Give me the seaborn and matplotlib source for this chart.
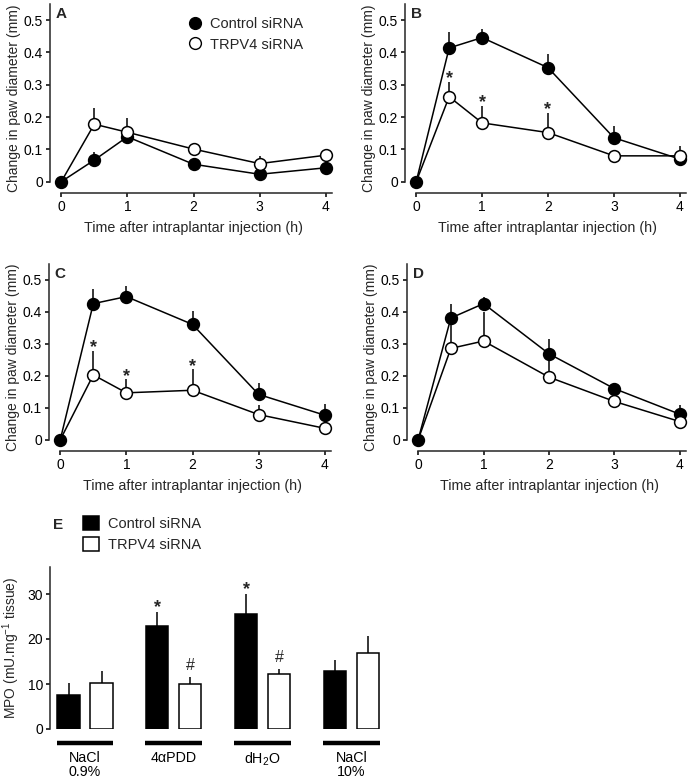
import matplotlib
matplotlib.use("Agg")
import matplotlib.pyplot as plt
from matplotlib.lines import Line2D
from matplotlib.patches import Patch
import numpy as np
import pandas as pd
import seaborn as sns

# time points (h)
times = [0, 0.5, 1, 2, 3, 4]

# panel A
a_control = [0, 0.067, 0.139, 0.054, 0.023, 0.043]
a_control_err = [0, 0.026, 0.010, 0.008, 0.008, 0.008]
a_trpv4 = [0, 0.178, 0.153, 0.101, 0.056, 0.082]
a_trpv4_err = [0, 0.049, 0.043, 0.017, 0.024, 0.018]
a_stars = []

# panel B
b_control = [0, 0.414, 0.446, 0.353, 0.136, 0.070]
b_control_err = [0, 0.050, 0.028, 0.041, 0.036, 0.010]
b_trpv4 = [0, 0.263, 0.182, 0.152, 0.080, 0.080]
b_trpv4_err = [0, 0.046, 0.052, 0.061, 0.010, 0.031]
b_stars = [0.5, 1, 2]

# panel C
c_control = [0, 0.426, 0.448, 0.361, 0.142, 0.077]
c_control_err = [0, 0.045, 0.033, 0.043, 0.036, 0.034]
c_trpv4 = [0, 0.203, 0.147, 0.155, 0.079, 0.036]
c_trpv4_err = [0, 0.075, 0.042, 0.065, 0.029, 0.023]
c_stars = [0.5, 1, 2]

# panel D
d_control = [0, 0.381, 0.426, 0.269, 0.160, 0.080]
d_control_err = [0, 0.045, 0.020, 0.046, 0.010, 0.029]
d_trpv4 = [0, 0.286, 0.309, 0.196, 0.120, 0.057]
d_trpv4_err = [0, 0.095, 0.091, 0.073, 0.027, 0.005]
d_stars = []

# panel E (MPO)
mpo_groups = ["NaCl\n0.9%", "4\u03b1PDD", "dH$_2$O", "NaCl\n10%"]
mpo_control = [7.5, 22.9, 25.6, 13.0]
mpo_control_err = [2.8, 3.0, 4.4, 2.4]
mpo_trpv4 = [10.3, 10.1, 12.2, 16.9]
mpo_trpv4_err = [2.7, 1.5, 1.2, 3.8]
mpo_control_marks = ["", "*", "*", ""]
mpo_trpv4_marks = ["", "#", "#", ""]

sns.set_theme(style="ticks")
plt.rcParams["font.family"] = ["Liberation Sans", "DejaVu Sans"]
plt.rcParams["mathtext.fontset"] = "custom"
plt.rcParams["mathtext.rm"] = "Liberation Sans"
plt.rcParams["mathtext.it"] = "Liberation Sans:italic"
plt.rcParams["axes.linewidth"] = 1.1
plt.rcParams["xtick.major.width"] = 1.1
plt.rcParams["ytick.major.width"] = 1.1

W, H = 691, 778
fig = plt.figure(figsize=(W / 100, H / 100), dpi=100)


def add_axes(left, top, width, height):
    return fig.add_axes([left / W, 1 - (top + height) / H, width / W, height / H])


def draw_time_course(ax, control, control_err, trpv4, trpv4_err, stars, letter):
    control = np.array(control)
    trpv4 = np.array(trpv4)
    ax.vlines(times, control, control + np.array(control_err), color="black", lw=1.1, zorder=1)
    ax.vlines(times, trpv4, trpv4 + np.array(trpv4_err), color="black", lw=1.1, zorder=1)
    sns.lineplot(x=times, y=control, ax=ax, color="black", lw=1.1, marker="o",
                 markersize=8.5, markerfacecolor="black", markeredgecolor="black",
                 markeredgewidth=1.1, zorder=2)
    sns.lineplot(x=times, y=trpv4, ax=ax, color="black", lw=1.1, marker="o",
                 markersize=8.5, markerfacecolor="white", markeredgecolor="black",
                 markeredgewidth=1.1, markevery=slice(1, None), zorder=3)
    for t in stars:
        i = times.index(t)
        ax.annotate("*", (t, trpv4[i] + trpv4_err[i]), xytext=(0, -1),
                    textcoords="offset points", ha="center", va="baseline",
                    fontsize=13, fontweight="bold")

    ax.set_xlim(-0.17, 4.17)
    ax.set_ylim(-0.035, 0.55)
    ax.set_xticks([0, 1, 2, 3, 4])
    ax.set_yticks([0, 0.1, 0.2, 0.3, 0.4, 0.5])
    ax.set_yticklabels(["0", "0.1", "0.2", "0.3", "0.4", "0.5"])
    sns.despine(ax=ax)
    ax.spines["bottom"].set_bounds(0, 4.1)
    ax.spines["left"].set_bounds(0, 0.55)
    ax.tick_params(axis="both", labelsize=10, length=3, pad=2, colors="black")
    ax.set_xlabel("Time after intraplantar injection (h)", fontsize=10.3, labelpad=5)
    ax.set_ylabel("Change in paw diameter (mm)", fontsize=10, labelpad=2)
    ax.text(0.02, 0.985, letter, transform=ax.transAxes, fontsize=11,
            fontweight="bold", ha="left", va="top")


ax_a = add_axes(50, 4, 287, 189)
draw_time_course(ax_a, a_control, a_control_err, a_trpv4, a_trpv4_err, a_stars, "A")
ax_b = add_axes(405, 4, 286, 189)
draw_time_course(ax_b, b_control, b_control_err, b_trpv4, b_trpv4_err, b_stars, "B")
ax_c = add_axes(49, 264, 287, 187)
draw_time_course(ax_c, c_control, c_control_err, c_trpv4, c_trpv4_err, c_stars, "C")
ax_d = add_axes(407, 264, 284, 187)
draw_time_course(ax_d, d_control, d_control_err, d_trpv4, d_trpv4_err, d_stars, "D")

line_handles = [
    Line2D([], [], ls="none", marker="o", markersize=8.5, mfc="black", mec="black"),
    Line2D([], [], ls="none", marker="o", markersize=8.5, mfc="white", mec="black"),
]
ax_a.legend(line_handles, ["Control siRNA", "TRPV4 siRNA"], loc="upper left",
            bbox_to_anchor=(188 / W, 1 - 17 / H), bbox_transform=fig.transFigure,
            frameon=False, fontsize=10.5, handlelength=1.0, handletextpad=0.5,
            borderpad=0, borderaxespad=0, labelspacing=0.45)

# panel E
ax_e = add_axes(50, 567, 335, 162)
mpo_df = pd.DataFrame({
    "group": mpo_groups * 2,
    "siRNA": ["Control siRNA"] * 4 + ["TRPV4 siRNA"] * 4,
    "value": mpo_control + mpo_trpv4,
})
sns.barplot(data=mpo_df, x="group", y="value", hue="siRNA",
            palette={"Control siRNA": "black", "TRPV4 siRNA": "white"},
            edgecolor="black", linewidth=1.1, width=0.744, gap=0.33,
            errorbar=None, legend=False, ax=ax_e)

bars = sorted(ax_e.patches, key=lambda p: p.get_x())
errs = [e for pair in zip(mpo_control_err, mpo_trpv4_err) for e in pair]
marks = [m for pair in zip(mpo_control_marks, mpo_trpv4_marks) for m in pair]
for bar, err, mark in zip(bars, errs, marks):
    xc = bar.get_x() + bar.get_width() / 2
    top = bar.get_height()
    ax_e.vlines(xc, top, top + err, color="black", lw=1.1, zorder=0)
    if mark == "*":
        ax_e.annotate(mark, (xc, top + err), xytext=(0, 0), textcoords="offset points",
                      ha="center", va="baseline", fontsize=13, fontweight="bold")
    elif mark:
        ax_e.annotate(mark, (xc, top + err), xytext=(0, 5), textcoords="offset points",
                      ha="center", va="baseline", fontsize=11.5)

for i in range(len(mpo_groups)):
    ax_e.hlines(-3.0, i - 0.32, i + 0.32, color="black", lw=3.2, clip_on=False)

ax_e.set_xlim(-0.395, 3.38)
ax_e.set_ylim(0, 36)
ax_e.set_yticks([0, 10, 20, 30])
sns.despine(ax=ax_e)
ax_e.spines["bottom"].set_visible(False)
ax_e.spines["left"].set_bounds(0, 36)
ax_e.tick_params(axis="y", labelsize=10, length=3, pad=2, colors="black")
ax_e.tick_params(axis="x", labelsize=10.3, length=0, pad=15.5, colors="black")
for lab in ax_e.get_xticklabels():
    lab.set_linespacing(1.02)
ax_e.set_xlabel("")
ax_e.set_ylabel("MPO (mU.mg$^{-1}$ tissue)", fontsize=10, labelpad=4)
fig.text(53 / W, 1 - 518 / H, "E", fontsize=11, fontweight="bold", ha="left", va="top")

bar_handles = [Patch(facecolor="black", edgecolor="black", lw=1.1),
               Patch(facecolor="white", edgecolor="black", lw=1.1)]
ax_e.legend(bar_handles, ["Control siRNA", "TRPV4 siRNA"], loc="upper left",
            bbox_to_anchor=(83 / W, 1 - 516 / H), bbox_transform=fig.transFigure,
            frameon=False, fontsize=10.5, handlelength=1.1, handleheight=1.1,
            handletextpad=0.6, borderpad=0, borderaxespad=0, labelspacing=0.4)

fig.savefig("out.png", dpi=100)
